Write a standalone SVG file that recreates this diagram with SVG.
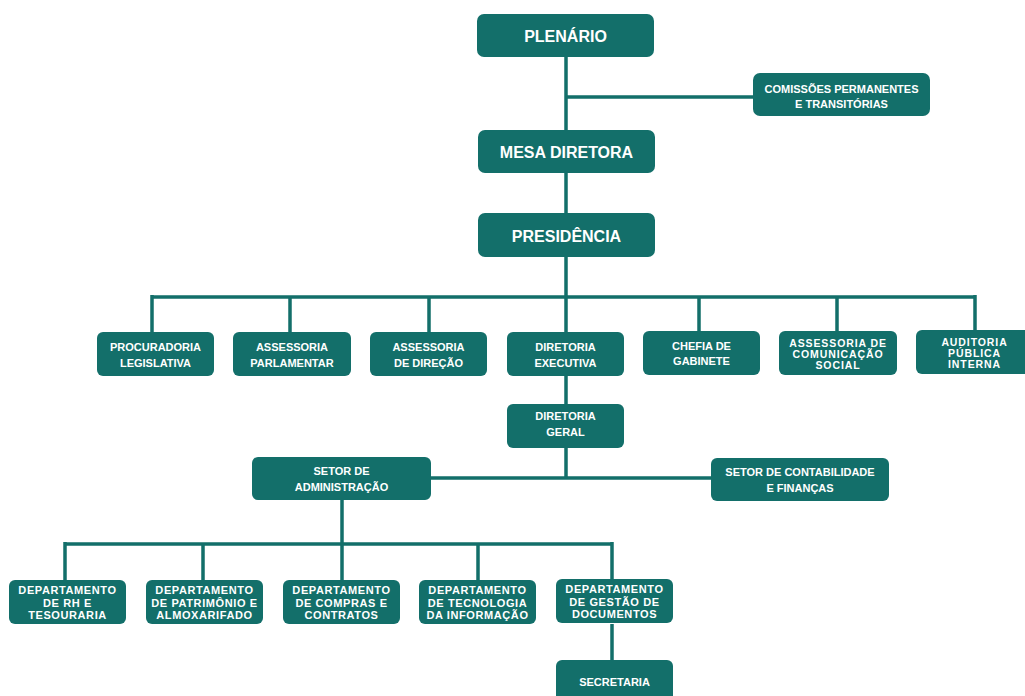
<svg xmlns="http://www.w3.org/2000/svg" width="1025" height="696" viewBox="0 0 1025 696">
<style>
.b{fill:#136f6a}
.t{fill:#fff;font-family:"Liberation Sans",Arial,sans-serif;font-weight:bold;text-anchor:middle}
.big{font-size:16px}
.sm{font-size:11px}
.tri{font-size:10.5px;letter-spacing:0.9px}
.dep{font-size:11px;letter-spacing:0.6px}
.c{stroke:#136f6a;stroke-width:3.5;fill:none}
</style>
<rect width="1025" height="696" fill="#fff"/>
<g id="connectors" class="c">
<path d="M566 57V130M566 97H753M566 173V213M566 257V332M152 297H975M152 295V332M290 297V332M429 297V332M699 297V332M837 297V332M975 295V332M566 376V404M566 448V478M431 478H711M342 500V544M65 544H612M65 542V580M203 544V580M342 544V580M478 544V580M612 542V580M612 624V660"/>
</g>
<g id="plenario"><rect class="b" x="477" y="14" width="177" height="43" rx="7"/><text class="t big" x="565.5" y="42">PLENÁRIO</text></g>
<g id="comissoes"><rect class="b" x="753" y="73" width="177" height="43" rx="7"/><text class="t sm" x="841.5" y="93">COMISSÕES PERMANENTES</text><text class="t sm" x="841.5" y="108">E TRANSITÓRIAS</text></g>
<g id="mesa"><rect class="b" x="478" y="130" width="177" height="43" rx="7"/><text class="t big" x="566.5" y="158">MESA DIRETORA</text></g>
<g id="presidencia"><rect class="b" x="478" y="213" width="177" height="44" rx="7"/><text class="t big" x="566.5" y="242">PRESIDÊNCIA</text></g>
<g id="procuradoria"><rect class="b" x="97" y="332" width="117" height="44" rx="6"/><text class="t sm" x="155.5" y="351">PROCURADORIA</text><text class="t sm" x="155.5" y="367">LEGISLATIVA</text></g>
<g id="ass-parlamentar"><rect class="b" x="233" y="332" width="118" height="44" rx="6"/><text class="t sm" x="292" y="351">ASSESSORIA</text><text class="t sm" x="292" y="367">PARLAMENTAR</text></g>
<g id="ass-direcao"><rect class="b" x="370" y="332" width="117" height="44" rx="6"/><text class="t sm" x="428.5" y="351">ASSESSORIA</text><text class="t sm" x="428.5" y="367">DE DIREÇÃO</text></g>
<g id="dir-executiva"><rect class="b" x="507" y="332" width="117" height="44" rx="6"/><text class="t sm" x="565.5" y="351">DIRETORIA</text><text class="t sm" x="565.5" y="367">EXECUTIVA</text></g>
<g id="chefia"><rect class="b" x="643" y="331" width="117" height="44" rx="6"/><text class="t sm" x="701.5" y="350">CHEFIA DE</text><text class="t sm" x="701.5" y="365">GABINETE</text></g>
<g id="ass-comunicacao"><rect class="b" x="779" y="331" width="118" height="44" rx="6"/><text class="t tri" x="838" y="347">ASSESSORIA DE</text><text class="t tri" x="838" y="358">COMUNICAÇÃO</text><text class="t tri" x="838" y="369">SOCIAL</text></g>
<g id="auditoria"><rect class="b" x="916" y="330" width="117" height="44" rx="6"/><text class="t tri" x="974.5" y="346">AUDITORIA</text><text class="t tri" x="974.5" y="357">PÚBLICA</text><text class="t tri" x="974.5" y="368">INTERNA</text></g>
<g id="dir-geral"><rect class="b" x="507" y="404" width="117" height="44" rx="6"/><text class="t sm" x="565.5" y="420">DIRETORIA</text><text class="t sm" x="565.5" y="436">GERAL</text></g>
<g id="setor-adm"><rect class="b" x="252" y="457" width="179" height="43" rx="6"/><text class="t sm" x="341.5" y="475">SETOR DE</text><text class="t sm" x="341.5" y="491">ADMINISTRAÇÃO</text></g>
<g id="setor-contab"><rect class="b" x="711" y="458" width="178" height="43" rx="6"/><text class="t sm" x="800" y="476">SETOR DE CONTABILIDADE</text><text class="t sm" x="800" y="492">E FINANÇAS</text></g>
<g id="dep-rh"><rect class="b" x="9" y="580" width="117" height="44" rx="6"/><text class="t dep" x="67.5" y="594">DEPARTAMENTO</text><text class="t dep" x="67.5" y="607">DE RH E</text><text class="t dep" x="67.5" y="619">TESOURARIA</text></g>
<g id="dep-patrimonio"><rect class="b" x="146" y="580" width="117" height="44" rx="6"/><text class="t dep" x="204.5" y="594">DEPARTAMENTO</text><text class="t dep" x="204.5" y="607">DE PATRIMÔNIO E</text><text class="t dep" x="204.5" y="619">ALMOXARIFADO</text></g>
<g id="dep-compras"><rect class="b" x="283" y="580" width="117" height="44" rx="6"/><text class="t dep" x="341.5" y="594">DEPARTAMENTO</text><text class="t dep" x="341.5" y="607">DE COMPRAS E</text><text class="t dep" x="341.5" y="619">CONTRATOS</text></g>
<g id="dep-ti"><rect class="b" x="419" y="580" width="117" height="44" rx="6"/><text class="t dep" x="477.5" y="594">DEPARTAMENTO</text><text class="t dep" x="477.5" y="607">DE TECNOLOGIA</text><text class="t dep" x="477.5" y="619">DA INFORMAÇÃO</text></g>
<g id="dep-gestao"><rect class="b" x="556" y="579" width="117" height="44" rx="6"/><text class="t dep" x="614.5" y="593">DEPARTAMENTO</text><text class="t dep" x="614.5" y="606">DE GESTÃO DE</text><text class="t dep" x="614.5" y="618">DOCUMENTOS</text></g>
<g id="secretaria"><rect class="b" x="556" y="660" width="117" height="48" rx="6"/><text class="t sm" x="614.5" y="686">SECRETARIA</text></g>
</svg>
